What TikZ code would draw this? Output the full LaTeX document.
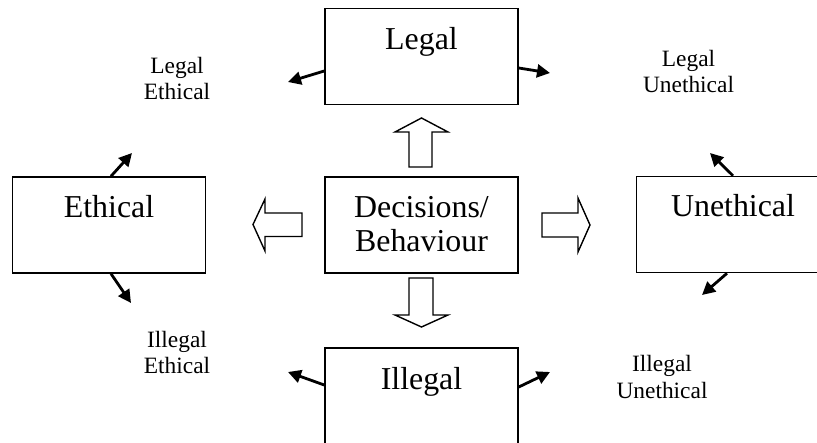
\documentclass[tikz,border=0pt]{standalone}
\usepackage{fontspec}
\setmainfont{Liberation Serif}
\usetikzlibrary{arrows.meta}
\begin{document}
\begin{tikzpicture}[x=1bp,y=-1bp,
  box/.style={draw,line width=1.5bp,minimum width=193bp,minimum height=96bp,inner sep=0pt},
  bigtxt/.style={font=\fontsize{32}{35}\selectfont,anchor=base,align=center,inner sep=0pt},
  smalltxt/.style={font=\fontsize{23.5}{27}\selectfont,anchor=base,align=center,inner sep=0pt},
  blockarrow/.style={draw,line width=1.4bp,line join=miter,fill=white},
  smallarrow/.style={line width=2.8bp,-{Triangle[length=13bp,width=13bp]}}]
\useasboundingbox (0,0) rectangle (817,443);
\clip (0,0) rectangle (817,443);
% boxes
\node[box] (legal) at (421.5,56.5) {};
\node[box] (ethical) at (109,225) {};
\node[box] (center) at (421.5,225) {};
\node[box] (unethical) at (733,224.5) {};
\node[box,minimum height=100bp] (illegal) at (421.5,398) {};
% box texts
\node[bigtxt] (tlegal) at (421.5,50) {Legal};
\node[bigtxt] (tethical) at (109,218) {Ethical};
\node[bigtxt] (tcenter) at (421.5,252) {Decisions/\\Behaviour};
\node[bigtxt] (tunethical) at (733,217) {Unethical};
\node[bigtxt] (tillegal) at (421.5,389) {Illegal};
% corner labels
\node[smalltxt] (le) at (177,100) {Legal\\Ethical};
\node[smalltxt] (lu) at (688.5,93) {Legal\\Unethical};
\node[smalltxt] (ie) at (177,374) {Illegal\\Ethical};
\node[smalltxt] (iu) at (662,398) {Illegal\\Unethical};
% block arrows
\draw[blockarrow] (409,167) -- (409,132) -- (395,132) -- (421.5,118) -- (448,132) -- (432,132) -- (432,167) -- cycle;
\draw[blockarrow] (409,278) -- (409,315) -- (395,315) -- (421.5,327) -- (448,315) -- (433,315) -- (433,278) -- cycle;
\draw[blockarrow] (302,213) -- (265,213) -- (265,199) -- (253,224.5) -- (265,251) -- (265,236.5) -- (302,236.5) -- cycle;
\draw[blockarrow] (542,213) -- (578,213) -- (578,198) -- (590,225) -- (578,252) -- (578,237) -- (542,237) -- cycle;
% small arrows
\coordinate (s1) at (legal.west |- 0,71);   \coordinate (e1) at (288,82);
\coordinate (s2) at (legal.east |- 0,68);   \coordinate (e2) at (550,73);
\coordinate (s3) at (ethical.north -| 111,0); \coordinate (e3) at (132,153);
\coordinate (s4) at (ethical.south -| 111,0); \coordinate (e4) at (131,303);
\coordinate (s5) at (unethical.north -| 733,0); \coordinate (e5) at (710,153);
\coordinate (s6) at (unethical.south -| 727,0); \coordinate (e6) at (702,295);
\coordinate (s7) at (illegal.west |- 0,385); \coordinate (e7) at (288,372);
\coordinate (s8) at (illegal.east |- 0,387); \coordinate (e8) at (550,372);
\foreach \i in {1,...,8} {\draw[smallarrow] (s\i) -- (e\i);}
\end{tikzpicture}
\end{document}
